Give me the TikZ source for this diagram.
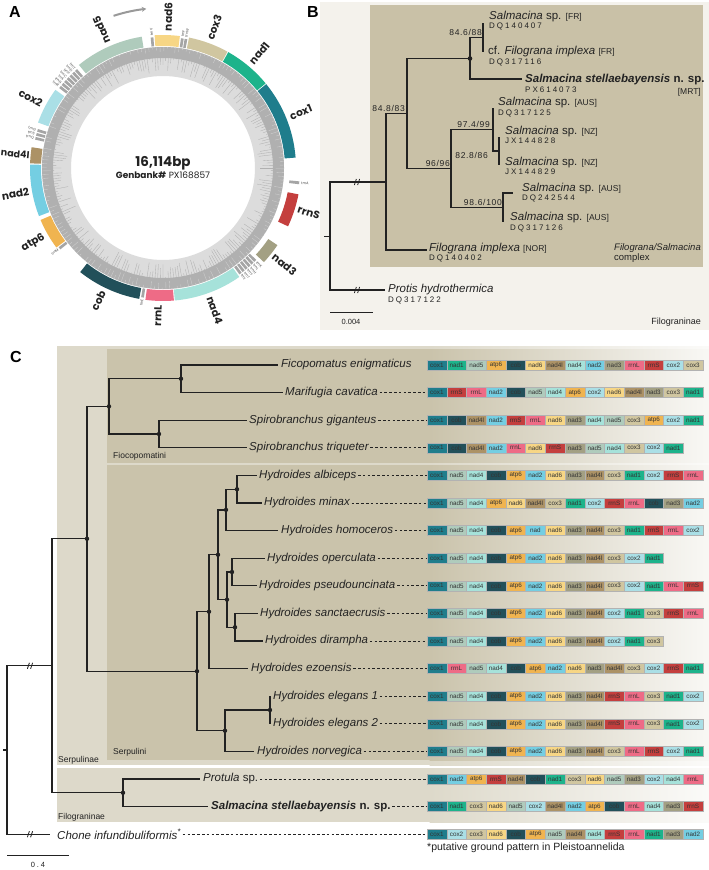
\documentclass[tikz,border=0pt]{standalone}
\usepackage{fontspec}
\setmainfont{Liberation Sans}
\newfontfamily\popfont{Poppins}
\newfontfamily\accfont[LetterSpace=25]{Liberation Sans}
\newfontfamily\bootfont[LetterSpace=8]{Liberation Sans}
\usetikzlibrary{arrows.meta}
% gene colours
\definecolor{gcox1}{HTML}{1F7D8C}
\definecolor{gnad1}{HTML}{1DB38B}
\definecolor{gnad5}{HTML}{AFCBBC}
\definecolor{gatp6}{HTML}{F0B450}
\definecolor{gcob}{HTML}{22505A}
\definecolor{gnad6}{HTML}{F7D685}
\definecolor{gnad4l}{HTML}{AC9266}
\definecolor{gnad4}{HTML}{A6E2DA}
\definecolor{gnad2}{HTML}{74CEE2}
\definecolor{gnad}{HTML}{74CEE2}
\definecolor{gnad3}{HTML}{A3A083}
\definecolor{grrnL}{HTML}{EE6B86}
\definecolor{grrnS}{HTML}{C43F3E}
\definecolor{gcox2}{HTML}{AADFE6}
\definecolor{gcox3}{HTML}{D0C6A0}
\definecolor{trngray}{HTML}{A5A5A5}
\definecolor{treeline}{HTML}{222222}
\definecolor{panelbg}{HTML}{F4F2EC}
\definecolor{cladebg}{HTML}{C9C1A7}
\definecolor{subfambg}{HTML}{DDD9CA}
\definecolor{tribebg}{HTML}{CAC3AB}
\definecolor{ringlight}{HTML}{DCDCDC}
\definecolor{ringdark}{HTML}{B0B0B0}

\newcommand\setfs[1]{\fontsize{#1}{#1}\selectfont}
\newcommand\loc[1]{\textup{\setfs{8.5}[#1]}}
% annular segment: colour, start, end (clock degrees), inner and outer radius
\newcommand\genearc[5]{%
  \fill[#1] ({#2-90}:#4) arc[start angle={#2-90}, end angle={#3-90}, radius=#4]
    -- ({#3-90}:#5) arc[start angle={#3-90}, end angle={#2-90}, radius=#5] -- cycle;}
% row of gene boxes: prefix, y, genes
\newcommand\generow[3]{%
  \foreach \g [count=\k from 0] in {#3}
    \node[genebox, fill=g\g] (#1-\k) at (427+\k*19.71+9.855, #2) {\g};}

\tikzset{
  branch/.style={draw=treeline, line width=1.2pt},
  cname/.style={anchor=west, inner sep=0pt, text=treeline, font={\setfs{11.5}\itshape}},
  acc/.style={anchor=west, inner sep=0pt, text=treeline, font={\accfont\setfs{8}}},
  boot/.style={inner sep=0pt, text=treeline, font={\bootfont\setfs{8.5}}},
  leader/.style={draw=treeline, line width=0.9pt, dash pattern=on 2.6pt off 2.2pt},
  genebox/.style={draw=black!30, line width=0.25pt, inner sep=0pt, minimum width=19.71pt,
    minimum height=10pt, text=black!80, font={\setfs{6.3}}},
  tribelab/.style={anchor=west, inner sep=0pt, text=treeline, font={\setfs{8.5}}},
  glab/.style={inner sep=0pt, text=treeline, font={\popfont\bfseries\setfs{10.5}}},
  trnlab/.style={inner sep=0pt, text=black!70, font={\popfont\setfs{3.6}}},
  panellab/.style={inner sep=0pt, font={\bfseries\setfs{16}}},
  brk/.pic={\draw[treeline, line width=0.8pt] (-2.6,3) -- (-0.6,-3) (0.6,3) -- (2.6,-3);}
}

\begin{document}
\begin{tikzpicture}[x=1pt,y=-1pt]
\useasboundingbox (0,0) rectangle (709,870);
\fill[white] (0,0) rectangle (709,870);

% ---------- A: circular map
\node[panellab] (labA) at (15,12) {A};
\begin{scope}[shift={(163,168)}]
  \fill[ringlight, even odd rule] (0,0) circle[radius=121] (0,0) circle[radius=92];
  \fill[ringdark, even odd rule] (0,0) circle[radius=121] (0,0) circle[radius=110];
  \pgfmathsetseed{7}
  \foreach \i in {0,...,259} {
    \pgfmathsetmacro\ang{\i*1.3846}
    \pgfmathsetmacro\rin{110-15*rnd}
    \draw[ringdark, line width=0.35pt] (\ang:110) -- (\ang:\rin);
  }
  \foreach \i in {0,...,199} {
    \pgfmathsetmacro\ang{\i*1.8+0.4}
    \pgfmathsetmacro\rin{121-9*rnd}
    \draw[ringlight!70!ringdark, line width=0.35pt] (\ang:121) -- (\ang:\rin);
  }
  \foreach \g/\s/\e in {nad5/320.8/350.8, nad6/-3.6/7.3, cox3/11.3/29, nad1/29.4/50.5,
      cox1/50.9/85.5, nad4/145/174.9, rrnL/175.3/187.6, cob/190.3/218.5, atp6/233.3/247,
      nad2/248.8/271.5, nad4l/272/279, cox2/290/306}
    \genearc{g\g}{\s}{\e}{122}{133};
  \genearc{grrnS}{101}{115}{127}{138}
  \genearc{gnad3}{124}{133}{127}{138}
  \genearc{trngray}{95.6}{96.8}{127}{137}
  \foreach \s in {354.6, 7.9, 9.5, 134.6, 136.3, 138, 139.7, 141.4, 143.1, 188.4, 231.6,
      282.5, 284.3, 286.1, 307.6, 309.3, 311, 312.7, 314.4, 316.1, 317.8}
    \genearc{trngray}{\s}{\s+1.2}{122}{131};
  % gene names
  \node[glab, anchor=west, rotate=114] (tnad5) at (246:137) {nad5};
  \node[glab, anchor=west, rotate=88] (tnad6) at (-88:137) {nad6};
  \node[glab, anchor=west, rotate=70] (tcox3) at (-70:137) {cox3};
  \node[glab, anchor=west, rotate=50] (tnad1) at (-50:137) {nad1};
  \node[glab, anchor=west, rotate=22] (tcox1) at (-22:137) {cox1};
  \node[glab, anchor=west, rotate=-17] (trrnS) at (17:141) {rrnS};
  \node[glab, anchor=west, rotate=-38.5] (tnad3) at (38.5:141) {nad3};
  \node[glab, anchor=west, rotate=-70] (tnad4) at (70:137) {nad4};
  \node[glab, anchor=east, rotate=88] (trrnL) at (92:137) {rrnL};
  \node[glab, anchor=east, rotate=64] (tcob) at (116:137) {cob};
  \node[glab, anchor=east, rotate=30] (tatp6) at (150:137) {atp6};
  \node[glab, anchor=east, rotate=10] (tnad2) at (170:136) {nad2};
  \node[glab, anchor=east, rotate=-5.5, font={\popfont\bfseries\setfs{9.5}}] (tnad4l) at (185.5:134) {nad4l};
  \node[glab, anchor=east, rotate=-28] (tcox2) at (208:137) {cox2};
  % tRNA names
  \foreach \t/\n [count=\k] in {355.2/trnV, 8.5/trnF, 10.1/trnW, 135.2/trnK, 136.9/trnL,
      138.6/trnH, 140.3/trnY, 142/trnT, 143.7/trnI} {
    \pgfmathsetmacro\rr{90-\t}
    \node[trnlab, anchor=west, rotate=\rr] (trno\k) at ({\t-90}:132.5) {\n};
  }
  \node[trnlab, anchor=west, rotate=-6.2] (trnA) at (6.2:139) {trnA};
  \foreach \t/\n [count=\k] in {189/trnE, 232.2/trnM, 283.1/trnQ, 284.9/trnS, 286.7/trnG,
      308.2/trnR, 309.9/trnN, 311.6/trnL, 313.3/trnC, 315/trnP, 316.7/trnD, 318.4/trnT} {
    \pgfmathsetmacro\rr{270-\t}
    \node[trnlab, anchor=east, rotate=\rr] (trni\k) at ({\t-90}:132.5) {\n};
  }
  \draw[-{Stealth[length=4.5pt,width=5pt]}, line width=2pt, black!40]
    (-108:160) arc[start angle=-108, end angle=-96, radius=160];
  \node[inner sep=0pt, font={\popfont\bfseries\setfs{13.5}}, text=treeline] (bp) at (0,-5) {16,114bp};
  \node[inner sep=0pt, font={\popfont\setfs{9}}, text=treeline] (gb) at (0,7) {{\bfseries Genbank\#} PX168857};
\end{scope}

% ---------- B: Filograninae tree
\node[panellab] (labB) at (313,12) {B};
\fill[panelbg] (320,2) rectangle (709,330);
\fill[cladebg] (370,5) rectangle (703,267);
\coordinate (stubB) at (324,236.5);
\coordinate (rB) at (330,236.5);
\coordinate (nB1) at (386,182);
\coordinate (nB2) at (407,113.5);
\coordinate (nB3) at (470,58.5);
\coordinate (nB4) at (483,37.5);
\coordinate (nB5) at (451,168.5);
\coordinate (nB6) at (493,129.5);
\coordinate (nB7) at (499,151);
\coordinate (nB8) at (503,207.5);
\coordinate (tB1) at (483,23);
\coordinate (tB2) at (483,52);
\coordinate (tB3) at (522,79);
\coordinate (tB4) at (493,108);
\coordinate (tB5) at (499,137);
\coordinate (tB6) at (499,165);
\coordinate (tB7) at (513,193);
\coordinate (tB8) at (503,222);
\coordinate (tB9) at (427,250);
\coordinate (tB10) at (385,290);
\draw[branch] (stubB) -- (rB);
\foreach \p/\c in {rB/nB1, rB/tB10, nB1/nB2, nB1/tB9, nB2/nB3, nB2/nB5, nB3/nB4, nB3/tB3,
    nB4/tB1, nB4/tB2, nB5/nB6, nB5/nB8, nB6/tB4, nB6/nB7, nB7/tB5, nB7/tB6, nB8/tB7, nB8/tB8}
  \draw[branch] (\p) |- (\c);
\fill[treeline] (nB3) circle[radius=2.3];
\pic at (357,182) {brk};
\pic at (357,290) {brk};
% support values
\node[boot, anchor=south east] (sB2) at ([shift={(-2,-2)}]nB2) {84.8/83};
\node[boot, anchor=south east] (sB4) at ([shift={(-1,-2)}]nB4) {84.6/88};
\node[boot, anchor=south east] (sB5) at ([shift={(-1,-2)}]nB5) {96/96};
\node[boot, anchor=south east] (sB6) at ([shift={(-3,-2)}]nB6) {97.4/99};
\node[boot, anchor=north east] (sB7) at ([shift={(-11,1)}]nB7) {82.8/86};
\node[boot, anchor=south east] (sB8) at ([shift={(-1,-2)}]nB8) {98.6/100};
% tip labels
\node[cname] (lB1) at (489,17) {Salmacina \textup{sp.} \loc{FR}};
\node[acc] (aB1) at (489,26) {DQ140407};
\node[cname] (lB2) at (488,52) {\textup{cf.} Filograna implexa \loc{FR}};
\node[acc] (aB2) at (489,62) {DQ317116};
\node[cname] (lB3) at (525,80) {\bfseries Salmacina stellaebayensis \textup{n. sp.}};
\node[acc] (aB3) at (525,89.5) {PX614073};
\node[inner sep=0pt, anchor=east, text=treeline] (mB3) at (701,92) {\loc{MRT}};
\node[cname] (lB4) at (498,103) {Salmacina \textup{sp.} \loc{AUS}};
\node[acc] (aB4) at (498,113) {DQ317125};
\node[cname] (lB5) at (505,132) {Salmacina \textup{sp.} \loc{NZ}};
\node[acc] (aB5) at (505,141) {JX144828};
\node[cname] (lB6) at (505,163) {Salmacina \textup{sp.} \loc{NZ}};
\node[acc] (aB6) at (505,171.5) {JX144829};
\node[cname] (lB7) at (522,189) {Salmacina \textup{sp.} \loc{AUS}};
\node[acc] (aB7) at (522,198) {DQ242544};
\node[cname] (lB8) at (510,218) {Salmacina \textup{sp.} \loc{AUS}};
\node[acc] (aB8) at (510,228) {DQ317126};
\node[cname] (lB9) at (429,249) {Filograna implexa \loc{NOR}};
\node[acc] (aB9) at (429,258.5) {DQ140402};
\node[cname] (lB10) at (388,290) {Protis hydrothermica};
\node[acc] (aB10) at (388,300) {DQ317122};
\node[inner sep=0pt, anchor=east, align=left, text=treeline, font={\fontsize{9.5}{10.5}\selectfont}]
  (cplx) at (701,253) {\textit{Filograna/Salmacina}\\complex};
\node[inner sep=0pt, anchor=east, text=treeline, font={\setfs{9}}] (filoB) at (701,322) {Filograninae};
\coordinate (sbB1) at (330,312);
\coordinate (sbB2) at (373,312);
\draw[treeline, line width=1pt] (sbB1) -- (sbB2);
\node[inner sep=0pt, text=treeline, font={\setfs{7.5}}] (sbBl) at (351,321.5) {0.004};

% ---------- C: Serpulidae tree with gene orders
\node[panellab] (labC) at (16,357) {C};
\foreach \ya/\yb/\xa/\col in {346/765/57/subfambg, 349/462.5/107/tribebg,
    465/760/107/tribebg, 768/822/57/subfambg} {
  \fill[\col] (\xa,\ya) rectangle (430,\yb);
  \shade[left color=\col, right color=\col!12!white] (429.5,\ya) rectangle (709,\yb);
}
\node[tribelab] (fic) at (113,456) {Fiocopomatini};
\node[tribelab] (serpi) at (113,752) {Serpulini};
\node[tribelab] (serpa) at (58,760.5) {Serpulinae};
\node[tribelab] (filoC) at (58,817) {Filograninae};
\coordinate (stubC) at (3,750);
\coordinate (rC) at (7,750);
\coordinate (nC1) at (52,665.8);
\coordinate (nC2) at (87,538.8);
\coordinate (nC3) at (109,406.4);
\coordinate (nC4) at (181,378.8);
\coordinate (nC5) at (159,434);
\coordinate (nC6) at (197,671.2);
\coordinate (nC7) at (209,611.7);
\coordinate (nC8) at (218,554.8);
\coordinate (nC9) at (226,509.9);
\coordinate (nC10) at (237,489.2);
\coordinate (nC11) at (227,599.6);
\coordinate (nC12) at (232,572);
\coordinate (nC13) at (235,627.2);
\coordinate (nC14) at (225,730.7);
\coordinate (nC15) at (270,710);
\coordinate (nC16) at (123,792.8);
\foreach \i/\x in {1/278, 2/283, 3/247, 4/247, 5/257, 6/262, 7/278, 8/265, 9/257, 10/258,
    11/263, 12/248, 13/271, 14/271, 15/254, 16/200, 17/208, 18/50}
  \coordinate (tC\i) at (\x, {365+27.6*(\i-1)});
\draw[branch] (stubC) -- (rC);
\foreach \p/\c in {rC/nC1, rC/tC18, nC1/nC2, nC1/nC16, nC2/nC3, nC2/nC6, nC3/nC4, nC3/nC5,
    nC4/tC1, nC4/tC2, nC5/tC3, nC5/tC4, nC6/nC7, nC6/nC14, nC7/nC8, nC7/tC12, nC8/nC9,
    nC8/nC11, nC9/nC10, nC9/tC7, nC10/tC5, nC10/tC6, nC11/nC12, nC11/nC13, nC12/tC8,
    nC12/tC9, nC13/tC10, nC13/tC11, nC14/nC15, nC14/tC15, nC15/tC13, nC15/tC14,
    nC16/tC16, nC16/tC17}
  \draw[branch] (\p) |- (\c);
\foreach \i in {2,...,16}
  \fill[treeline] (nC\i) circle[radius=2.2];
\pic at (30,665.8) {brk};
\pic at (30,834.2) {brk};
% species
\node[cname] (lC1) at ([xshift=3]tC1) {Ficopomatus enigmaticus};
\node[cname] (lC2) at ([xshift=2]tC2) {Marifugia cavatica};
\node[cname] (lC3) at ([xshift=2]tC3) {Spirobranchus giganteus};
\node[cname] (lC4) at ([xshift=2]tC4) {Spirobranchus triqueter};
\node[cname] (lC5) at ([xshift=2]tC5) {Hydroides albiceps};
\node[cname] (lC6) at ([xshift=2]tC6) {Hydroides minax};
\node[cname] (lC7) at ([xshift=3]tC7) {Hydroides homoceros};
\node[cname] (lC8) at ([xshift=2]tC8) {Hydroides operculata};
\node[cname] (lC9) at ([xshift=2]tC9) {Hydroides pseudouncinata};
\node[cname] (lC10) at ([xshift=2]tC10) {Hydroides sanctaecrusis};
\node[cname] (lC11) at ([xshift=2]tC11) {Hydroides dirampha};
\node[cname] (lC12) at ([xshift=3]tC12) {Hydroides ezoensis};
\node[cname] (lC13) at ([xshift=2]tC13) {Hydroides elegans 1};
\node[cname] (lC14) at ([xshift=2]tC14) {Hydroides elegans 2};
\node[cname] (lC15) at ([xshift=3]tC15) {Hydroides norvegica};
\node[cname] (lC16) at ([xshift=3]tC16) {Protula \textup{sp.}};
\node[cname] (lC17) at ([xshift=3]tC17) {\bfseries Salmacina stellaebayensis \textup{n. sp.}};
\node[cname] (lC18) at ([xshift=7]tC18) {Chone infundibuliformis\textsuperscript{*}};
% gene orders
\generow{g1}{365}{cox1,nad1,nad5,atp6,cob,nad6,nad4l,nad4,nad2,nad3,rrnL,rrnS,cox2,cox3}
\generow{g2}{392.6}{cox1,rrnS,rrnL,nad2,cob,nad5,nad4,atp6,cox2,nad6,nad4l,nad3,cox3,nad1}
\generow{g3}{420.2}{cox1,cob,nad4l,nad2,rrnS,rrnL,nad6,nad3,nad4,nad5,cox3,atp6,cox2,nad1}
\generow{g4}{447.8}{cox1,cob,nad4l,nad2,rrnL,nad6,rrnS,nad3,nad5,nad4,cox3,cox2,nad1}
\generow{g5}{475.4}{cox1,nad5,nad4,cob,atp6,nad2,nad6,nad3,nad4l,cox3,nad1,cox2,rrnS,rrnL}
\generow{g6}{503}{cox1,nad5,nad4,atp6,nad6,nad4l,cox3,nad1,cox2,rrnS,rrnL,cob,nad3,nad2}
\generow{g7}{530.6}{cox1,nad5,nad4,cob,atp6,nad,nad6,nad3,nad4l,cox3,nad1,rrnS,rrnL,cox2}
\generow{g8}{558.2}{cox1,nad5,nad4,cob,atp6,nad2,nad6,nad3,nad4l,cox3,cox2,nad1}
\generow{g9}{585.8}{cox1,nad5,nad4,cob,atp6,nad2,nad6,nad3,nad4l,cox3,cox2,nad1,rrnL,rrnS}
\generow{g10}{613.4}{cox1,nad5,nad4,cob,atp6,nad2,nad6,nad3,nad4l,cox2,nad1,cox3,rrnS,rrnL}
\generow{g11}{641}{cox1,nad5,nad4,cob,atp6,nad2,nad6,nad3,nad4l,cox2,nad1,cox3}
\generow{g12}{668.6}{cox1,rrnL,nad5,nad4,cob,atp6,nad2,nad6,nad3,nad4l,cox3,cox2,rrnS,nad1}
\generow{g13}{696.2}{cox1,nad5,nad4,cob,atp6,nad2,nad6,nad3,nad4l,rrnS,rrnL,cox3,nad1,cox2}
\generow{g14}{723.8}{cox1,nad5,nad4,cob,atp6,nad2,nad6,nad3,nad4l,rrnS,rrnL,cox3,nad1,cox2}
\generow{g15}{751.4}{cox1,nad5,nad4,cob,atp6,nad2,nad6,nad3,nad4l,cox3,rrnL,rrnS,cox2,nad1}
\generow{g16}{779}{cox1,nad2,atp6,rrnS,nad4l,cob,nad1,cox3,nad6,nad5,nad3,cox2,nad4,rrnL}
\generow{g17}{806.6}{cox1,nad1,cox3,nad6,nad5,cox2,nad4l,nad2,atp6,cob,rrnL,nad4,nad3,rrnS}
\generow{g18}{834.2}{cox1,cox2,cox3,nad6,cob,atp6,nad5,nad4l,nad4,rrnS,rrnL,nad1,nad3,nad2}
\foreach \i in {2,...,18}
  \draw[leader] ([xshift=1.5]lC\i.east) -- (lC\i.east -| g\i-0.west);
\node[inner sep=0pt, anchor=west, text=treeline, font={\setfs{10.5}}] (note) at (427,848)
  {*putative ground pattern in Pleistoannelida};
\coordinate (sbC1) at (7,855);
\coordinate (sbC2) at (69,855);
\draw[treeline, line width=1pt] (sbC1) -- (sbC2);
\node[inner sep=0pt, text=treeline, font={\accfont\setfs{7.5}}] (sbCl) at (38,865) {0.4};
\end{tikzpicture}
\end{document}
